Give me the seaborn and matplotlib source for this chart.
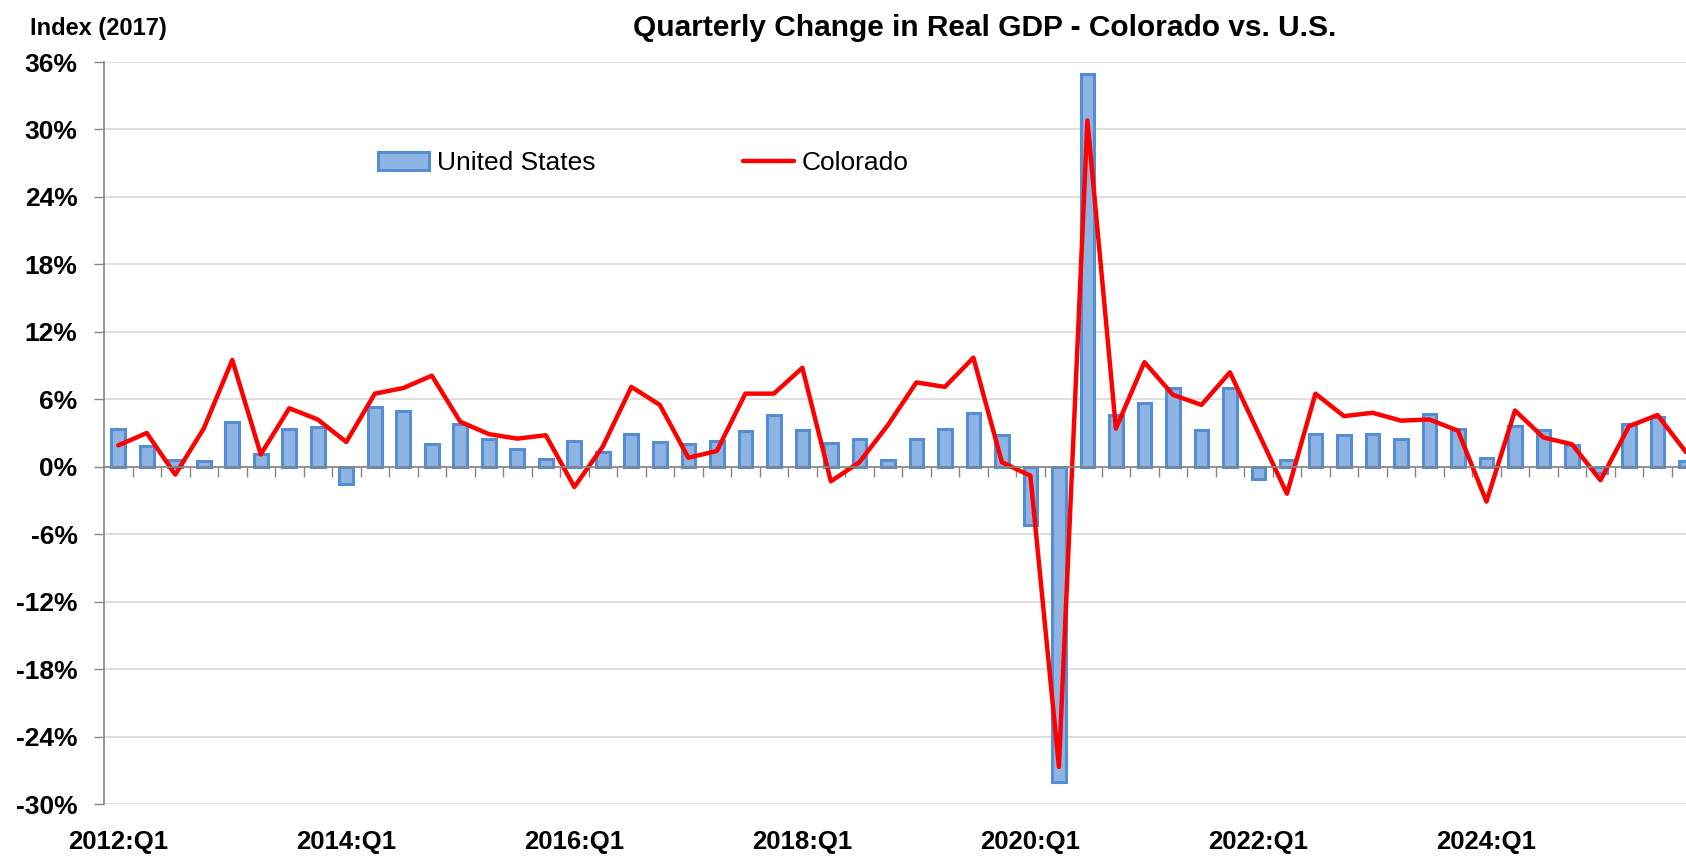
import numpy as np
import pandas as pd
import matplotlib
matplotlib.use("Agg")
import matplotlib.pyplot as plt
import seaborn as sns

# quarterly labels, 2012:Q1 .. 2025:Q4
quarters = [f"{y}:Q{q}" for y in range(2012, 2026) for q in range(1, 5)]
shown_labels = ["2012:Q1", "2014:Q1", "2016:Q1", "2018:Q1", "2020:Q1", "2022:Q1", "2024:Q1"]

# percent change, annualized
us_change = [3.4, 1.8, 0.6, 0.5, 4.0, 1.1, 3.4, 3.5, -1.5, 5.3, 5.0, 2.0, 3.8, 2.5,
             1.6, 0.7, 2.3, 1.3, 2.9, 2.2, 2.0, 2.3, 3.2, 4.6, 3.3, 2.1, 2.5, 0.6,
             2.5, 3.4, 4.8, 2.8, -5.2, -28.0, 34.9, 4.6, 5.7, 7.0, 3.3, 7.0, -1.1, 0.6,
             2.9, 2.8, 2.9, 2.5, 4.7, 3.4, 0.8, 3.6, 3.3, 1.9, -0.6, 3.8, 4.4, 0.5]
co_change = [1.9, 3.0, -0.7, 3.4, 9.5, 1.1, 5.2, 4.2, 2.2, 6.5, 7.0, 8.1, 4.0, 2.9,
             2.5, 2.8, -1.8, 1.8, 7.1, 5.5, 0.8, 1.4, 6.5, 6.5, 8.8, -1.3, 0.4, 3.7,
             7.5, 7.1, 9.7, 0.4, -0.8, -26.7, 30.8, 3.4, 9.3, 6.4, 5.5, 8.4, 3.0, -2.4,
             6.5, 4.5, 4.8, 4.1, 4.2, 3.2, -3.1, 5.0, 2.6, 2.0, -1.2, 3.6, 4.6, 1.3]

df = pd.DataFrame({"quarter": quarters, "us": us_change, "co": co_change})
df["pos"] = np.arange(len(df))

sns.set_theme(style="white")
plt.rcParams["font.family"] = ["Liberation Sans", "DejaVu Sans"]
plt.rcParams["text.color"] = "black"
plt.rcParams["xtick.color"] = "black"
plt.rcParams["ytick.color"] = "black"

W, H = 1686, 858
fig = plt.figure(figsize=(W / 100, H / 100), dpi=100)
left, bottom, top = 104 / W, 1 - 804 / H, 1 - 62 / H
ax = fig.add_axes([left, bottom, 1 - left, top - bottom])

sns.barplot(data=df, x="quarter", y="us", color="#8EB4E3", edgecolor="#558ED5",
            linewidth=2.2, width=0.48, saturation=1, label="United States", ax=ax)
sns.lineplot(data=df, x="pos", y="co", color="#FF0000", linewidth=3.2,
             label="Colorado", ax=ax)

ax.set_xlim(-0.5, 55.0)
ax.set_ylim(-30, 36)
ax.set_xlabel("")
ax.set_ylabel("")

gray = "#868686"
ax.set_yticks(range(-30, 37, 6))
ax.set_yticklabels([f"{v}%" for v in range(-30, 37, 6)], fontweight="bold")
ax.yaxis.grid(True, color="#D9D9D9", linewidth=1.2)
ax.set_axisbelow(True)
ax.tick_params(axis="y", left=True, length=7, width=1, color=gray, pad=12,
               labelsize=19, labelcolor="black")

for s in ["top", "right"]:
    ax.spines[s].set_visible(False)
ax.spines["left"].set_color(gray)
ax.spines["left"].set_linewidth(1.2)
ax.spines["bottom"].set_position(("data", 0))
ax.spines["bottom"].set_color(gray)
ax.spines["bottom"].set_linewidth(1.2)

ax.set_xticks(np.arange(0.5, 55, 1))
ax.set_xticklabels([])
ax.tick_params(axis="x", bottom=True, direction="out", length=7, width=1, color=gray)

sec = ax.secondary_xaxis(0)
sec.set_xticks([quarters.index(q) for q in shown_labels], labels=shown_labels)
sec.tick_params(length=0, pad=19, labelsize=18.5, labelcolor="black")
for lab in sec.get_xticklabels():
    lab.set_fontweight("bold")
sec.spines["bottom"].set_visible(False)

handles, labels = ax.get_legend_handles_labels()
order = [labels.index("United States"), labels.index("Colorado")]
ax.legend([handles[i] for i in order], [labels[i] for i in order],
          loc="center left", bbox_to_anchor=(378 / W, 1 - 163 / H),
          bbox_transform=fig.transFigure, ncol=2, frameon=False, fontsize=19,
          handlelength=1.95, handletextpad=0.27, columnspacing=5.6,
          borderpad=0, borderaxespad=0)

fig.text(985 / W, 1 - 36 / H, "Quarterly Change in Real GDP - Colorado vs. U.S.",
         ha="center", va="baseline", fontsize=21.5, fontweight="bold", color="black")
fig.text(30 / W, 1 - 35 / H, "Index (2017)", ha="left", va="baseline",
         fontsize=17, fontweight="bold", color="black")

fig.savefig("out.png", dpi=100)
